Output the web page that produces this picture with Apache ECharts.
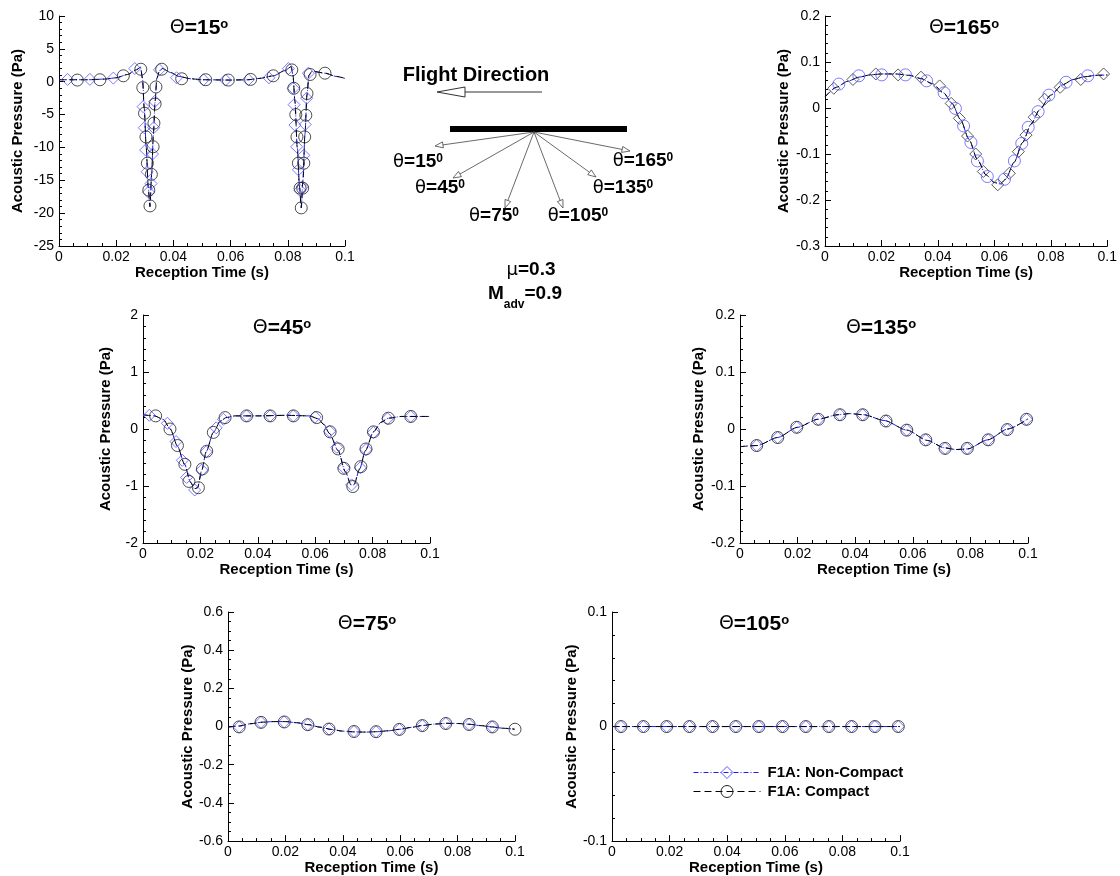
<!DOCTYPE html>
<html>
<head>
<meta charset="utf-8">
<script src="https://cdn.jsdelivr.net/npm/echarts/dist/echarts.min.js"></script>
<style>
html, body { margin: 0; padding: 0; background: #fff; }
#chart { width: 1120px; height: 876px; }
</style>
</head>
<body>
<div id="chart"></div>
<script>
// ---------------- data ----------------
const seriesNames = ['F1A: Non-Compact', 'F1A: Compact'];
const observerAngles = ['15', '165', '45', '135', '75', '105'];
const timeRange = [0, 0.1, 0.02];           // reception time axis: min, max, step
const yMin = [-25, -0.3, -2, -0.2, -0.6, -0.1];
const yMax = [10, 0.2, 2, 0.2, 0.6, 0.1];
const yStep = [5, 0.1, 1, 0.1, 0.2, 0.1];

// pressure traces [time (s), pressure (Pa)]
const curve15 = [[0,0.3],[0.01,0.3],[0.016,0.4],[0.02,0.6],[0.024,1.1],[0.027,1.8],[0.0285,2.2],[0.0292,0.5],[0.0298,-4],[0.0305,-10],[0.0312,-16],[0.0318,-19],[0.0324,-14],[0.033,-8],[0.0336,-3],[0.0342,0.5],[0.0352,1.7],[0.0362,2.0],[0.039,1.4],[0.042,0.8],[0.046,0.45],[0.05,0.3],[0.06,0.25],[0.066,0.3],[0.07,0.5],[0.075,0.9],[0.079,1.7],[0.0812,2.3],[0.0818,1.0],[0.0825,-3],[0.0833,-10],[0.0841,-16],[0.0847,-19.2],[0.0853,-15],[0.086,-8],[0.0867,-2],[0.0874,1.0],[0.0885,1.6],[0.093,1.3],[0.097,0.8],[0.1,0.5]];
const nonCompact15 = [[0.003,0.35],[0.0108,0.35],[0.019,0.55],[0.0265,2.0],[0.0294,-3.8],[0.0298,-7.0],[0.0303,-10.4],[0.0308,-13.7],[0.0313,-16.8],[0.0322,-15.5],[0.0327,-11.0],[0.0331,-7.0],[0.0335,-3.0],[0.0351,1.8],[0.0411,0.6],[0.0505,0.3],[0.0582,0.25],[0.0662,0.3],[0.0734,0.6],[0.0802,2.0],[0.0819,-1.0],[0.0822,-3.5],[0.0825,-6.6],[0.0831,-9.9],[0.0837,-13.4],[0.0842,-16.5],[0.0851,-16.0],[0.0856,-11.2],[0.0861,-6.5],[0.0866,-2.5],[0.0872,1.3]];
const compact15 = [[0.0064,0.25],[0.0143,0.3],[0.0225,0.9],[0.0286,1.9],[0.0293,-0.9],[0.0299,-4.8],[0.0304,-8.4],[0.0309,-12.4],[0.0314,-16.5],[0.0318,-18.9],[0.0323,-14.1],[0.0329,-9.9],[0.0332,-6.3],[0.0336,-3.4],[0.0339,-0.8],[0.0359,1.9],[0.0429,0.45],[0.0513,0.3],[0.0592,0.25],[0.067,0.35],[0.0749,0.9],[0.0814,1.8],[0.0821,-1.0],[0.0828,-5.0],[0.0832,-8.4],[0.0837,-12.4],[0.0843,-16.2],[0.0847,-19.2],[0.0852,-16.2],[0.0856,-12.4],[0.0859,-8.4],[0.0863,-5.1],[0.0867,-1.8],[0.0878,1.1],[0.093,1.3]];

const curve165 = [[0,0.024],[0.004,0.045],[0.008,0.058],[0.012,0.067],[0.016,0.072],[0.02,0.074],[0.025,0.074],[0.03,0.071],[0.034,0.064],[0.038,0.053],[0.042,0.033],[0.045,0.01],[0.048,-0.025],[0.051,-0.068],[0.054,-0.112],[0.057,-0.145],[0.06,-0.162],[0.062,-0.165],[0.064,-0.155],[0.067,-0.118],[0.07,-0.075],[0.073,-0.035],[0.076,-0.004],[0.08,0.028],[0.084,0.05],[0.088,0.062],[0.092,0.068],[0.096,0.071],[0.1,0.072]];
const nonCompact165 = [[0.0031,0.043],[0.0099,0.062],[0.018,0.074],[0.0259,0.072],[0.034,0.067],[0.0406,0.048],[0.0447,0.01],[0.0476,-0.0225],[0.0505,-0.061],[0.0534,-0.1],[0.0561,-0.138],[0.0612,-0.167],[0.0653,-0.142],[0.0685,-0.095],[0.0712,-0.059],[0.0741,-0.02],[0.0778,0.019],[0.0833,0.045],[0.0906,0.062],[0.0987,0.074]];
const compact165 = [[0.0049,0.052],[0.012,0.07],[0.0201,0.072],[0.0285,0.072],[0.036,0.059],[0.0422,0.033],[0.0462,-0.001],[0.0491,-0.039],[0.0517,-0.075],[0.054,-0.115],[0.0575,-0.149],[0.0636,-0.155],[0.0671,-0.115],[0.0697,-0.077],[0.072,-0.042],[0.0755,-0.008],[0.0793,0.028],[0.0854,0.056],[0.0931,0.07]];

const curve45 = [[0,0.25],[0.004,0.23],[0.007,0.17],[0.0095,0.0],[0.012,-0.3],[0.0145,-0.62],[0.0165,-0.93],[0.018,-1.05],[0.019,-1.03],[0.0205,-0.72],[0.022,-0.4],[0.0245,-0.06],[0.027,0.14],[0.029,0.2],[0.032,0.23],[0.04,0.23],[0.05,0.24],[0.058,0.23],[0.061,0.18],[0.063,0.08],[0.065,-0.08],[0.068,-0.38],[0.0705,-0.75],[0.0725,-0.98],[0.0735,-0.98],[0.0755,-0.7],[0.0775,-0.38],[0.0803,-0.05],[0.083,0.12],[0.0855,0.19],[0.09,0.22],[0.1,0.22]];
const nonCompact45 = [[0.0022,0.24],[0.0085,0.1],[0.0115,-0.22],[0.0137,-0.55],[0.0152,-0.85],[0.018,-1.07],[0.0205,-0.72],[0.022,-0.4],[0.0255,0.02],[0.028,0.17],[0.0361,0.23],[0.0443,0.23],[0.0524,0.23],[0.06,0.21],[0.065,-0.04],[0.0675,-0.32],[0.07,-0.68],[0.0727,-0.98],[0.0757,-0.68],[0.0777,-0.36],[0.0803,-0.06],[0.0852,0.18],[0.0933,0.22]];
const compact45 = [[0.0044,0.23],[0.0094,0.0],[0.012,-0.29],[0.0146,-0.62],[0.016,-0.92],[0.0193,-1.03],[0.0207,-0.7],[0.0222,-0.39],[0.0245,-0.06],[0.0286,0.2],[0.0361,0.23],[0.0443,0.23],[0.0524,0.23],[0.0605,0.2],[0.0652,-0.05],[0.068,-0.35],[0.07,-0.69],[0.0731,-1.01],[0.0759,-0.66],[0.0777,-0.35],[0.0803,-0.05],[0.0855,0.19],[0.0933,0.22]];

const curve135 = [[0,-0.031],[0.006,-0.029],[0.013,-0.015],[0.02,0.003],[0.027,0.017],[0.034,0.025],[0.038,0.027],[0.043,0.025],[0.05,0.015],[0.058,-0.002],[0.065,-0.02],[0.071,-0.033],[0.075,-0.036],[0.079,-0.035],[0.086,-0.019],[0.093,0.0],[0.1,0.018]];
const nonCompact135 = [[0.0058,-0.029],[0.0131,-0.015],[0.0197,0.003],[0.0272,0.017],[0.0347,0.025],[0.0426,0.025],[0.0507,0.014],[0.0579,-0.002],[0.0645,-0.019],[0.0712,-0.034],[0.0789,-0.034],[0.0862,-0.019],[0.0928,-0.001],[0.0995,0.017]];
const compact135 = [[0.0058,-0.029],[0.0131,-0.015],[0.0197,0.003],[0.0272,0.017],[0.0347,0.025],[0.0426,0.025],[0.0507,0.014],[0.0579,-0.002],[0.0645,-0.019],[0.0712,-0.034],[0.0789,-0.034],[0.0862,-0.019],[0.0928,-0.001],[0.0995,0.017]];

const curve75 = [[0,-0.003],[0.004,0.003],[0.008,0.015],[0.012,0.023],[0.016,0.026],[0.02,0.026],[0.024,0.02],[0.028,0.01],[0.032,-0.003],[0.036,-0.015],[0.04,-0.024],[0.044,-0.028],[0.048,-0.029],[0.052,-0.027],[0.056,-0.022],[0.06,-0.014],[0.064,-0.004],[0.068,0.006],[0.072,0.013],[0.076,0.017],[0.08,0.016],[0.084,0.012],[0.088,0.005],[0.092,-0.002],[0.096,-0.009],[0.1,-0.014]];
const nonCompact75 = [[0.0039,-0.002],[0.0115,0.022],[0.0196,0.024],[0.0278,0.01],[0.0352,-0.013],[0.0439,-0.026],[0.0516,-0.027],[0.0597,-0.015],[0.0677,0.005],[0.0759,0.016],[0.084,0.011],[0.0921,-0.002]];
const compact75 = [[0.0039,-0.002],[0.0115,0.022],[0.0196,0.024],[0.0278,0.01],[0.0352,-0.013],[0.0439,-0.026],[0.0516,-0.027],[0.0597,-0.015],[0.0677,0.005],[0.0759,0.016],[0.084,0.011],[0.0921,-0.002],[0.1,-0.014]];

const curve105 = [[0,0],[0.1,0]];
const nonCompact105 = [[0.0031,0],[0.0109,0],[0.019,0],[0.0269,0],[0.0349,0],[0.043,0],[0.051,0],[0.0592,0],[0.0673,0],[0.0753,0],[0.0832,0],[0.0913,0],[0.0994,0]];
const compact105 = [[0.0031,0],[0.0109,0],[0.019,0],[0.0269,0],[0.0349,0],[0.043,0],[0.051,0],[0.0592,0],[0.0673,0],[0.0753,0],[0.0832,0],[0.0913,0],[0.0994,0]];

const curves = [curve15, curve165, curve45, curve135, curve75, curve105];
const nonCompactPts = [nonCompact15, nonCompact165, nonCompact45, nonCompact135, nonCompact75, nonCompact105];
const compactPts = [compact15, compact165, compact45, compact135, compact75, compact105];

// ---------------- layout & style ----------------
const FONT = '"Liberation Sans", Arial, Helvetica, sans-serif';
const BLUE = '#1a1aff';
const BLUE_MARK = '#5a5aff';
const BLACK_MARK = '#222';
const DASH_DOT = [5, 2, 1, 2];
const DASH = [7, 4];

const grids = [
  { left: 59,  top: 16,  width: 286, height: 230, yGap: 34, minor: 5, title: [199, 28] },
  { left: 825, top: 16,  width: 287, height: 230, yGap: 34, minor: 5, title: [964, 28] },
  { left: 143, top: 315, width: 287, height: 228, yGap: 30, minor: 5, title: [282, 328] },
  { left: 740, top: 315, width: 288, height: 228, yGap: 34, minor: 5, title: [881, 328] },
  { left: 228, top: 612, width: 287, height: 230, yGap: 32, minor: 4, title: [367, 624] },
  { left: 612, top: 612, width: 288, height: 230, yGap: 32, minor: 5, title: [754, 624] }
];
// panel where the marker colours are exchanged
const swappedPanel = 1;

const axisCommon = {
  type: 'value',
  nameLocation: 'middle',
  nameTextStyle: { fontFamily: FONT, fontWeight: 'bold', fontSize: 15, color: '#000' },
  axisLine: { show: true, onZero: false, lineStyle: { color: '#000', width: 1 } },
  axisTick: { show: true, inside: true, length: 6, lineStyle: { color: '#000', width: 1 } },
  splitLine: { show: false },
  minorSplitLine: { show: false },
  axisLabel: { fontFamily: FONT, fontSize: 14, color: '#000' }
};

const xAxes = grids.map((g, i) => Object.assign({}, axisCommon, {
  gridIndex: i, min: timeRange[0], max: timeRange[1], interval: timeRange[2],
  name: 'Reception Time (s)', nameGap: 12,
  nameTextStyle: Object.assign({}, axisCommon.nameTextStyle, { verticalAlign: 'top' }),
  minorTick: { show: true, splitNumber: 4, length: 3, lineStyle: { color: '#000', width: 1 } },
  axisLabel: Object.assign({}, axisCommon.axisLabel, { margin: 4 })
}));

const yAxes = grids.map((g, i) => Object.assign({}, axisCommon, {
  gridIndex: i, min: yMin[i], max: yMax[i], interval: yStep[i],
  name: 'Acoustic Pressure (Pa)', nameGap: g.yGap,
  minorTick: { show: true, splitNumber: g.minor, length: 3, lineStyle: { color: '#000', width: 1 } },
  axisLabel: Object.assign({}, axisCommon.axisLabel, { margin: 5 })
}));

const series = [];
grids.forEach((g, i) => {
  const swap = i === swappedPanel;
  series.push({
    type: 'line', name: seriesNames[0], xAxisIndex: i, yAxisIndex: i,
    data: curves[i], showSymbol: false, symbol: 'diamond',
    smooth: 0.25, smoothMonotone: 'x', silent: true, z: 2,
    lineStyle: { color: BLUE, width: 1, type: DASH_DOT },
    itemStyle: { color: 'transparent', borderColor: BLUE_MARK, borderWidth: 1 }
  });
  series.push({
    type: 'line', name: seriesNames[1], xAxisIndex: i, yAxisIndex: i,
    data: curves[i], showSymbol: false, symbol: 'circle',
    smooth: 0.25, smoothMonotone: 'x', silent: true, z: 3,
    lineStyle: { color: '#000', width: 1, type: DASH },
    itemStyle: { color: 'transparent', borderColor: BLACK_MARK, borderWidth: 1 }
  });
  series.push({
    type: 'scatter', xAxisIndex: i, yAxisIndex: i, data: nonCompactPts[i],
    symbol: 'diamond', symbolSize: 12, silent: true, z: 4,
    itemStyle: { color: 'transparent', borderColor: swap ? '#333' : BLUE_MARK, borderWidth: 1 }
  });
  series.push({
    type: 'scatter', xAxisIndex: i, yAxisIndex: i, data: compactPts[i],
    symbol: 'circle', symbolSize: 12, silent: true, z: 5,
    itemStyle: { color: 'transparent', borderColor: swap ? BLUE_MARK : BLACK_MARK, borderWidth: 1 }
  });
});

// panel titles  Θ=NN°
const titleRich = {
  g: { fontFamily: '"DejaVu Sans", sans-serif', fontSize: 19, fontWeight: 'normal', fill: '#000' },
  b: { fontFamily: FONT, fontSize: 21, fontWeight: 'bold', fill: '#000' },
  s: { fontFamily: FONT, fontSize: 13, fontWeight: 'bold', fill: '#000', verticalAlign: 'top' }
};
const graphics = grids.map((g, i) => ({
  type: 'text', x: g.title[0], y: g.title[1], silent: true,
  style: { text: '{g|Θ}{b|=' + observerAngles[i] + '}{s|o}', rich: titleRich, align: 'center', verticalAlign: 'middle' }
}));

// ---------- observer sketch ----------
const labelRich = {
  g: { fontFamily: '"DejaVu Sans", sans-serif', fontSize: 18, fontWeight: 'normal', fill: '#000' },
  b: { fontFamily: FONT, fontSize: 19, fontWeight: 'bold', fill: '#000' },
  s: { fontFamily: FONT, fontSize: 12, fontWeight: 'bold', fill: '#000', verticalAlign: 'top' },
  sub: { fontFamily: FONT, fontSize: 12, fontWeight: 'bold', fill: '#000', verticalAlign: 'bottom', lineHeight: 34 }
};
graphics.push({
  type: 'text', x: 476, y: 75, silent: true,
  style: { text: 'Flight Direction', fontFamily: FONT, fontSize: 20, fontWeight: 'bold', fill: '#000', align: 'center', verticalAlign: 'middle' }
});
graphics.push({ type: 'line', silent: true, shape: { x1: 542, y1: 92, x2: 465, y2: 92 }, style: { stroke: '#333', lineWidth: 1 } });
graphics.push({ type: 'polygon', silent: true, shape: { points: [[437, 92], [465, 87], [465, 97]] }, style: { fill: '#fff', stroke: '#333', lineWidth: 1 } });
graphics.push({ type: 'rect', silent: true, shape: { x: 450, y: 126, width: 177, height: 6 }, style: { fill: '#000' } });

const rayOrigin = [534, 132];
const rayTips = [[435, 146], [453, 178], [505, 208], [563, 208], [596, 177], [630, 151]];
const rayLabels = [[418, 162], [440, 188], [494, 216], [578, 216], [623, 188], [643, 161]];
const rayAngles = ['15', '45', '75', '105', '135', '165'];
rayTips.forEach((t, k) => {
  const dx = t[0] - rayOrigin[0], dy = t[1] - rayOrigin[1];
  const len = Math.sqrt(dx * dx + dy * dy);
  const ux = dx / len, uy = dy / len;
  const bx = t[0] - ux * 8, by = t[1] - uy * 8;
  const px = -uy * 3, py = ux * 3;
  graphics.push({ type: 'line', silent: true, shape: { x1: rayOrigin[0], y1: rayOrigin[1], x2: bx, y2: by }, style: { stroke: '#444', lineWidth: 0.8 } });
  graphics.push({ type: 'polygon', silent: true, shape: { points: [t, [bx + px, by + py], [bx - px, by - py]] }, style: { fill: '#fff', stroke: '#444', lineWidth: 0.8 } });
  graphics.push({
    type: 'text', x: rayLabels[k][0], y: rayLabels[k][1], silent: true,
    style: { text: '{g|θ}{b|=' + rayAngles[k] + '}{s|0}', rich: labelRich, align: 'center', verticalAlign: 'middle' }
  });
});
graphics.push({
  type: 'text', x: 531, y: 270, silent: true,
  style: { text: '{g|μ}{b|=0.3}', rich: labelRich, align: 'center', verticalAlign: 'middle' }
});
graphics.push({
  type: 'text', x: 525, y: 294, silent: true,
  style: { text: '{b|M}{sub|adv}{b|=0.9}', rich: labelRich, align: 'center', verticalAlign: 'middle' }
});

const chart = echarts.init(document.getElementById('chart'), null, { renderer: 'canvas' });
chart.setOption({
  animation: false,
  backgroundColor: '#fff',
  grid: grids.map(g => ({ left: g.left, top: g.top, width: g.width, height: g.height, containLabel: false })),
  xAxis: xAxes,
  yAxis: yAxes,
  legend: {
    orient: 'vertical', left: 688, top: 760, itemWidth: 67, itemHeight: 15, itemGap: 4,
    selectedMode: false,
    textStyle: { fontFamily: FONT, fontWeight: 'bold', fontSize: 15, color: '#000', padding: [0, 0, 0, 2] },
    data: [
      { name: seriesNames[0], itemStyle: { color: 'transparent', borderColor: BLUE_MARK, borderWidth: 1 }, lineStyle: { color: BLUE, width: 1, type: DASH_DOT } },
      { name: seriesNames[1], itemStyle: { color: 'transparent', borderColor: BLACK_MARK, borderWidth: 1 }, lineStyle: { color: '#000', width: 1, type: DASH } }
    ]
  },
  graphic: graphics,
  series: series
});
</script>
</body>
</html>
